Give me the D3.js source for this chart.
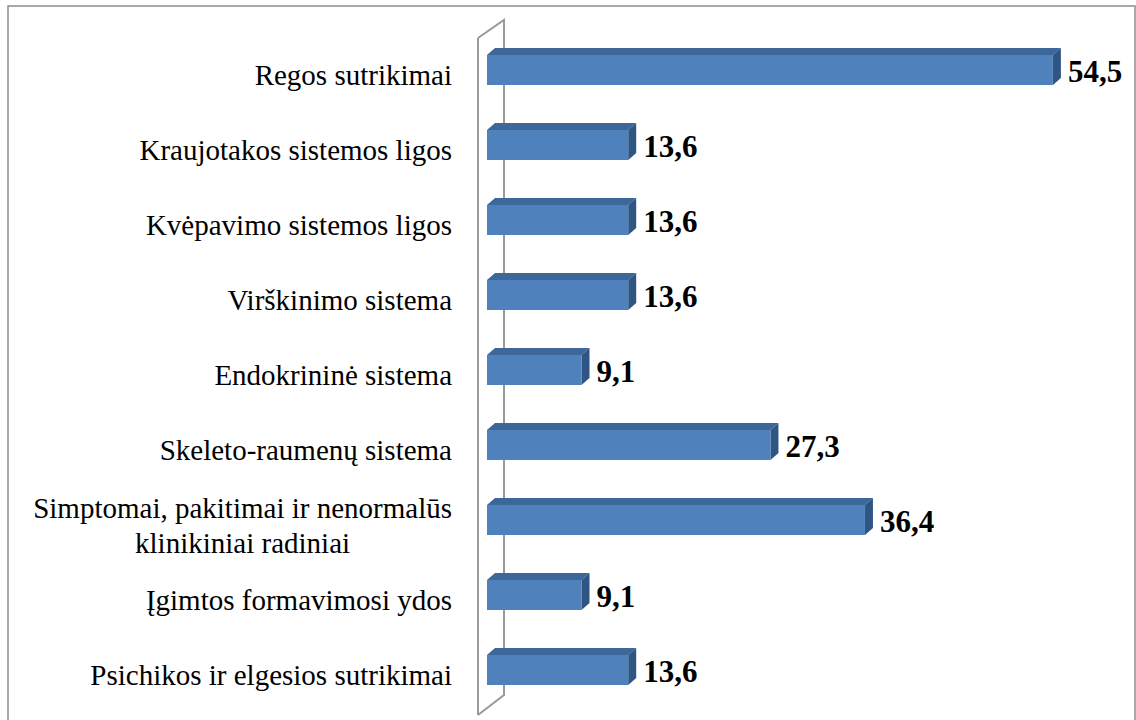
<!DOCTYPE html>
<html>
<head>
<meta charset="utf-8">
<script src="https://cdn.jsdelivr.net/npm/d3@7"></script>
<style>
  body { margin: 0; background: #fff; }
  svg { display: block; }
  .cat { font-family: "Liberation Serif", "Times New Roman", serif; font-size: 29px; fill: #000; }
  .val { font-family: "Liberation Serif", "Times New Roman", serif; font-size: 31px; font-weight: bold; fill: #000; }
</style>
</head>
<body>
<svg id="chart" width="1136" height="720"></svg>
<script>
// chart data
const categories = [
  ['Regos sutrikimai'],
  ['Kraujotakos sistemos ligos'],
  ['Kvėpavimo sistemos ligos'],
  ['Virškinimo sistema'],
  ['Endokrininė sistema'],
  ['Skeleto-raumenų sistema'],
  ['Simptomai, pakitimai ir nenormalūs', 'klinikiniai radiniai'],
  ['Įgimtos formavimosi ydos'],
  ['Psichikos ir elgesios sutrikimai']
]
const values = [54.5, 13.6, 13.6, 13.6, 9.1, 27.3, 36.4, 9.1, 13.6]
const valueLabels = ['54,5', '13,6', '13,6', '13,6', '9,1', '27,3', '36,4', '9,1', '13,6']
const xDomain = [0, 60]

const svg = d3.select('#chart')

// outer frame
svg.append('rect')
  .attr('x', 8).attr('y', 6)
  .attr('width', 1127).attr('height', 730)
  .attr('fill', 'none')
  .attr('stroke', '#8c8c8c')
  .attr('stroke-width', 1.5)

const keys = categories.map((c, i) => i)

const y = d3.scaleBand()
  .domain(keys)
  .range([32.5, 707.5])
  .paddingInner(0.6)
  .paddingOuter(0.3)

const x = d3.scaleLinear()
  .domain(xDomain)
  .range([487, 1110])

// 3D depth of the bars and of the wall
const dx = 8, dy = 7
const wallX = 478, wallDx = 26, wallDy = 18
const wallTop = 38, wallBottom = 715

// wall outline (back edge sits behind the bars)
const wall = svg.append('g')
  .attr('fill', 'none')
  .attr('stroke', '#9a9a9a')
  .attr('stroke-width', 2)

wall.append('path')
  .attr('d', `M${wallX},${wallTop} L${wallX + wallDx},${wallTop - wallDy} L${wallX + wallDx},${wallBottom - wallDy - 2} L${wallX},${wallBottom}`)
wall.append('path')
  .attr('d', `M${wallX},${wallTop} L${wallX},${wallBottom}`)

const bars = svg.append('g')
  .selectAll('g.bar')
  .data(keys)
  .enter()
  .append('g')
  .classed('bar', true)

bars.each(function (i) {
  let g = d3.select(this)
  let x0 = x(0), x1 = x(values[i])
  let y0 = y(i), h = y.bandwidth()

  // top face
  g.append('path')
    .attr('d', `M${x0},${y0} L${x0 + dx},${y0 - dy} L${x1 + dx},${y0 - dy} L${x1},${y0} Z`)
    .attr('fill', '#3d6699')
  // side face
  g.append('path')
    .attr('d', `M${x1},${y0} L${x1 + dx},${y0 - dy} L${x1 + dx},${y0 + h - dy} L${x1},${y0 + h} Z`)
    .attr('fill', '#2f5583')
  // front face
  g.append('rect')
    .attr('x', x0).attr('y', y0)
    .attr('width', x1 - x0).attr('height', h)
    .attr('fill', '#4f81bd')
})

// value labels
svg.append('g')
  .selectAll('text')
  .data(keys)
  .enter()
  .append('text')
  .classed('val', true)
  .attr('x', (i) => x(values[i]) + 15)
  .attr('y', (i) => y(i) + y.bandwidth() / 2 + 12)
  .text((i) => valueLabels[i])

// category labels: block right aligned, lines centered inside
const labelRight = 452
const lineH = 35
keys.forEach((i) => {
  let lines = categories[i]
  let g = svg.append('g')
  let texts = lines.map((s, k) => g.append('text')
    .classed('cat', true)
    .attr('text-anchor', 'middle')
    .attr('y', y(i) + y.bandwidth() / 2 + 15 + (k - (lines.length - 1) / 2) * lineH)
    .text(s))
  let w = d3.max(texts, (t) => t.node().getComputedTextLength())
  texts.forEach((t) => t.attr('x', labelRight - w / 2))
})
</script>
</body>
</html>
